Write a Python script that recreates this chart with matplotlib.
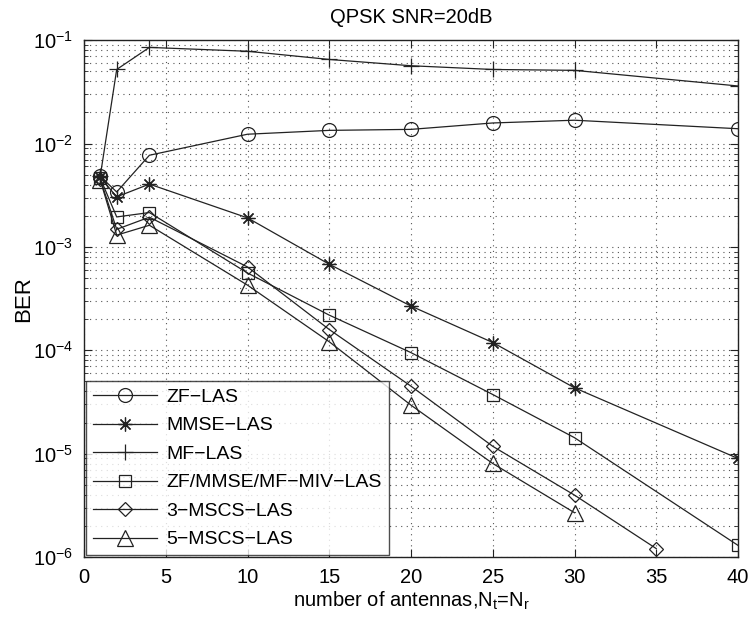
import matplotlib
matplotlib.use("Agg")
import matplotlib.pyplot as plt
from matplotlib.ticker import LogLocator, MultipleLocator, NullFormatter

plt.rcParams['font.family'] = ['Liberation Sans', 'DejaVu Sans']
plt.rcParams['mathtext.fontset'] = 'custom'
plt.rcParams['mathtext.rm'] = 'Liberation Sans'
plt.rcParams['mathtext.it'] = 'Liberation Sans'

# BER vs number of antennas (Nt = Nr), QPSK at 20 dB
n_zf = [1, 2, 4, 10, 15, 20, 25, 30, 40]
ber_zf = [4.8e-3, 3.4e-3, 7.7e-3, 1.23e-2, 1.34e-2, 1.37e-2, 1.58e-2, 1.68e-2, 1.39e-2]

n_mmse = [1, 2, 4, 10, 15, 20, 25, 30, 40]
ber_mmse = [4.7e-3, 3.05e-3, 4.05e-3, 1.91e-3, 6.8e-4, 2.68e-4, 1.19e-4, 4.34e-5, 9.0e-6]

n_mf = [1, 2, 4, 10, 15, 20, 25, 30, 40]
ber_mf = [4.9e-3, 5.2e-2, 8.5e-2, 7.8e-2, 6.5e-2, 5.65e-2, 5.2e-2, 5.1e-2, 3.6e-2]

n_miv = [1, 2, 4, 10, 15, 20, 25, 30, 40]
ber_miv = [4.6e-3, 1.95e-3, 2.15e-3, 5.6e-4, 2.19e-4, 9.5e-5, 3.74e-5, 1.43e-5, 1.3e-6]

n_3mscs = [1, 2, 4, 10, 15, 20, 25, 30, 35]
ber_3mscs = [4.5e-3, 1.48e-3, 1.94e-3, 6.4e-4, 1.59e-4, 4.5e-5, 1.18e-5, 3.98e-6, 1.21e-6]

n_5mscs = [1, 2, 4, 10, 15, 20, 25, 30]
ber_5mscs = [4.4e-3, 1.3e-3, 1.62e-3, 4.27e-4, 1.21e-4, 2.95e-5, 8.05e-6, 2.69e-6]

labels = ["ZF\u2212LAS", "MMSE\u2212LAS", "MF\u2212LAS", "ZF/MMSE/MF\u2212MIV\u2212LAS",
          "3\u2212MSCS\u2212LAS", "5\u2212MSCS\u2212LAS"]

ink = "#222222"
fig = plt.figure(figsize=(7.5, 6.17), dpi=100)
ax = fig.add_axes([0.112, 0.097, 0.872, 0.838])

style = dict(color=ink, lw=0.9, mfc="none", mec=ink, mew=0.9)
ax.plot(n_zf, ber_zf, marker="o", ms=10, label=labels[0], **style)
ax.plot(n_mmse, ber_mmse, marker=(8, 2, 0), ms=10, label=labels[1], **style)
ax.plot(n_mf, ber_mf, marker="+", ms=12, label=labels[2], **style)
ax.plot(n_miv, ber_miv, marker="s", ms=8.5, label=labels[3], **style)
ax.plot(n_3mscs, ber_3mscs, marker="D", ms=7.5, label=labels[4], **style)
ax.plot(n_5mscs, ber_5mscs, marker="^", ms=11, label=labels[5], **style)

ax.set_yscale("log")
ax.set_xlim(0, 40)
ax.set_ylim(1e-6, 1e-1)
ax.xaxis.set_major_locator(MultipleLocator(5))
ax.yaxis.set_major_locator(LogLocator(base=10, numticks=10))
ax.yaxis.set_minor_locator(LogLocator(base=10, subs=range(2, 10), numticks=20))
ax.yaxis.set_minor_formatter(NullFormatter())

ax.grid(True, which="major", axis="both", ls=(0, (1, 4)), color="#555555", lw=0.8)
ax.grid(True, which="minor", axis="y", ls=(0, (1, 4)), color="#555555", lw=0.8)
ax.tick_params(which="both", direction="in", top=True, right=True, labelsize=14.5, color=ink)
ax.tick_params(which="major", length=6, pad=8)
ax.tick_params(which="minor", length=3)
for s in ax.spines.values():
    s.set_color(ink)
    s.set_linewidth(1.0)

ax.set_title("QPSK SNR=20dB", fontsize=14.5, pad=12)
ax.set_xlabel(r"number of antennas,N$_\mathregular{t}$=N$_\mathregular{r}$", fontsize=14.5, labelpad=2)
ax.set_ylabel("BER", fontsize=16, labelpad=-1)

leg = ax.legend(loc="lower left", fontsize=14, frameon=True, fancybox=False,
                edgecolor=ink, borderaxespad=0.1, handlelength=3.3,
                labelspacing=0.56, borderpad=0.35, handletextpad=0.5)
leg.get_frame().set_linewidth(1.0)

fig.savefig("out.png", dpi=100)
